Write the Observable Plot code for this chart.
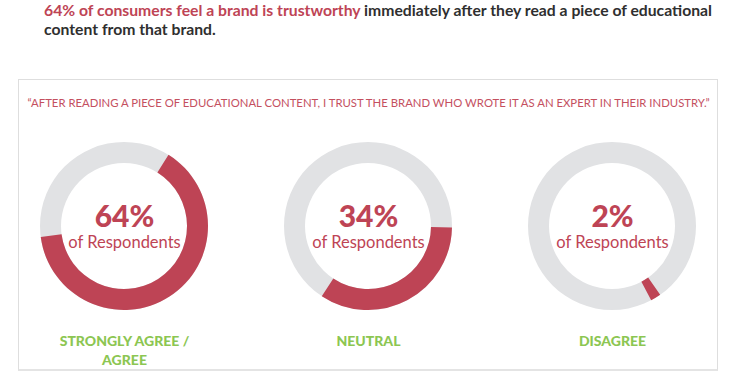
<!DOCTYPE html>
<html>
<head>
<meta charset="utf-8">
<script src="https://cdn.jsdelivr.net/npm/d3@7"></script>
<script src="https://cdn.jsdelivr.net/npm/@observablehq/plot@0.6"></script>
<style>
  html, body { margin: 0; padding: 0; background: #fff; }
  body { width: 738px; height: 380px; position: relative; overflow: hidden; font-family: Lato, "Noto Sans", sans-serif; }
  #title { position: absolute; left: 44px; top: 1px; font-size: 15.5px; font-weight: 700; line-height: 19px; color: #2f2f2f; white-space: nowrap; transform-origin: left top; }
  #title .hl { color: #be4455; }
  #box { position: absolute; left: 18px; top: 79px; width: 700px; height: 292px; border: 1px solid #dedede; border-bottom: 2px solid #e4e4e4; box-sizing: border-box; }
  #quote { position: absolute; left: 0; top: 96px; width: 738px; text-align: center; font-size: 11.5px; color: #c4505f; white-space: nowrap; }
  #quote span { display: inline-block; transform-origin: center; }
  #chart { position: absolute; left: 0; top: 0; }
</style>
</head>
<body>
<div id="title"><span id="tl1"><span class="hl">64% of consumers feel a brand is trustworthy</span> immediately after they read a piece of educational</span><br>content from that brand.</div>
<div id="box"></div>
<div id="quote"><span id="qtext">“AFTER READING A PIECE OF EDUCATIONAL CONTENT, I TRUST THE BRAND WHO WROTE IT AS AN EXPERT IN THEIR INDUSTRY.”</span></div>
<div id="chart"></div>
<script>
// ---- data ----
const categories = ["STRONGLY AGREE /\nAGREE", "NEUTRAL", "DISAGREE"];
const percents = [64, 34, 2];
const startAngles = [32, 91, 145]; // degrees clockwise from 12 o'clock where the red arc begins
const subLabel = "of Respondents";

const red = "#be4455", gray = "#e1e2e4", green = "#8cc652";

const data = categories.map((c, i) => ({category: c, percent: percents[i], start: startAngles[i]}));

// fit the quote and title widths
const q = document.getElementById("qtext");
q.style.transform = `scaleX(${682 / q.getBoundingClientRect().width})`;
const l1 = document.getElementById("tl1");
document.getElementById("title").style.transform = `scaleX(${668 / l1.getBoundingClientRect().width})`;

const angle = d3.scaleLinear([0, 100], [0, 2 * Math.PI]);
const deg = d3.scaleLinear([0, 360], [0, 2 * Math.PI]);

const donut = Plot.dot(data, {
  x: "category",
  frameAnchor: "middle",
  r: 0,
  render(index, scales, values, dims) {
    const cy = dims.marginTop + (dims.height - dims.marginTop - dims.marginBottom) / 2;
    const arc = d3.arc().innerRadius(63).outerRadius(84);
    const g = d3.create("svg:g");
    for (const i of index) {
      const d = data[i];
      const cx = values.x[i];
      const gg = g.append("g").attr("transform", `translate(${cx},${cy})`);
      gg.append("path").attr("fill", gray).attr("d", arc({startAngle: 0, endAngle: 2 * Math.PI}));
      const a0 = deg(d.start);
      gg.append("path").attr("fill", red).attr("d", arc({startAngle: a0, endAngle: a0 + angle(d.percent)}));
    }
    return g.node();
  }
});

const chart = Plot.plot({
  width: 738,
  height: 380,
  marginTop: 72,
  marginBottom: 0,
  marginLeft: 2,
  marginRight: 4,
  x: {type: "point", domain: categories, padding: 0.5, axis: null},
  style: {background: "transparent", fontFamily: "Lato, 'Noto Sans', sans-serif", overflow: "visible"},
  marks: [
    donut,
    Plot.text(data, {x: "category", frameAnchor: "middle", text: d => d.percent + "%", dy: -9, fontSize: 30, fontWeight: 900, fill: red}),
    Plot.text(data, {x: "category", frameAnchor: "middle", text: () => subLabel, dy: 16, fontSize: 16.5, fill: red}),
    Plot.text(data, {x: "category", frameAnchor: "middle", text: "category", lineAnchor: "top", dy: 105, lineHeight: 1.42, fontSize: 14, fontWeight: 900, fill: green})
  ]
});
document.getElementById("chart").appendChild(chart);
</script>
</body>
</html>
